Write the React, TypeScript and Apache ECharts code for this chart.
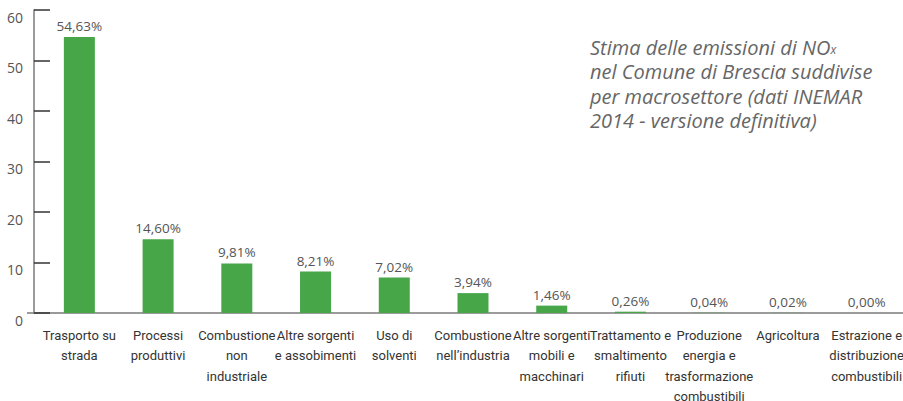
import React, { useEffect, useRef } from "react";
import * as echarts from "echarts";

const categories = [
  "Trasporto su\nstrada",
  "Processi\nproduttivi",
  "Combustione\nnon\nindustriale",
  "Altre sorgenti\ne assobimenti",
  "Uso di\nsolventi",
  "Combustione\nnell’industria",
  "Altre sorgenti\nmobili e\nmacchinari",
  "Trattamento e\nsmaltimento\nrifiuti",
  "Produzione\nenergia e\ntrasformazione\ncombustibili",
  "Agricoltura",
  "Estrazione e\ndistribuzione\ncombustibili",
];
const values = [54.63, 14.6, 9.81, 8.21, 7.02, 3.94, 1.46, 0.26, 0.04, 0.02, 0.0];
const yTicks = { min: 0, max: 60, interval: 10 };
const titleLines = [
  "Stima delle emissioni di NO{s|x}",
  "nel Comune di Brescia suddivise",
  "per macrosettore (dati INEMAR",
  "2014 - versione definitiva)",
];

export default function App() {
  const ref = useRef<HTMLDivElement>(null);
  useEffect(() => {
    if (!ref.current) return;
    const chart = echarts.init(ref.current, null, { renderer: "svg" });
    chart.setOption({
      animation: false,
      backgroundColor: "#ffffff",
      grid: { left: 40, right: -3, top: 10, bottom: 88, containLabel: false, outerBoundsMode: "none" },
      graphic: [
        {
          type: "text",
          left: 590,
          top: 35,
          style: {
            text: titleLines.join("\n"),
            font: "italic 20px 'Open Sans', sans-serif",
            fill: "#666666",
            lineHeight: 24.5,
            rich: {
              s: { fontSize: 12, fontStyle: "italic", fontFamily: "Open Sans", fill: "#666666", padding: [5, 0, 0, 0] },
            },
          },
        },
        {
          type: "line",
          shape: { x1: 27, y1: 313, x2: 40, y2: 313 },
          style: { stroke: "#7a7a7a", lineWidth: 1.5 },
        },
      ],
      xAxis: {
        type: "category",
        data: categories,
        axisLine: { show: true, lineStyle: { color: "#7a7a7a", width: 1.5 } },
        axisTick: { show: false },
        axisLabel: {
          interval: 0,
          margin: 12,
          color: "#333333",
          fontFamily: "Roboto, sans-serif",
          fontSize: 13,
          lineHeight: 20.5,
          verticalAlign: "top",
        },
      },
      yAxis: {
        type: "value",
        min: yTicks.min,
        max: yTicks.max,
        interval: yTicks.interval,
        offset: 6,
        splitLine: { show: false },
        axisLine: { show: true, lineStyle: { color: "#7a7a7a", width: 1.5 } },
        axisTick: { show: true, inside: true, length: 16, lineStyle: { color: "#333333", width: 1.5 } },
        axisLabel: {
          color: "#555555",
          fontFamily: "'Open Sans', sans-serif",
          fontSize: 14,
          margin: 11,
          verticalAlign: "top",
        },
      },
      series: [
        {
          type: "bar",
          data: values,
          barWidth: 31,
          itemStyle: { color: "#46a648" },
          label: {
            show: true,
            position: "top",
            distance: 4,
            color: "#555555",
            fontFamily: "'Open Sans', sans-serif",
            fontSize: 13.5,
            formatter: (p: any) => p.value.toFixed(2).replace(".", ",") + "%",
          },
        },
      ],
    });
    return () => chart.dispose();
  }, []);
  return (
    <div
      ref={ref}
      style={{ position: "fixed", left: 0, top: 0, width: 903, height: 401 }}
    />
  );
}
